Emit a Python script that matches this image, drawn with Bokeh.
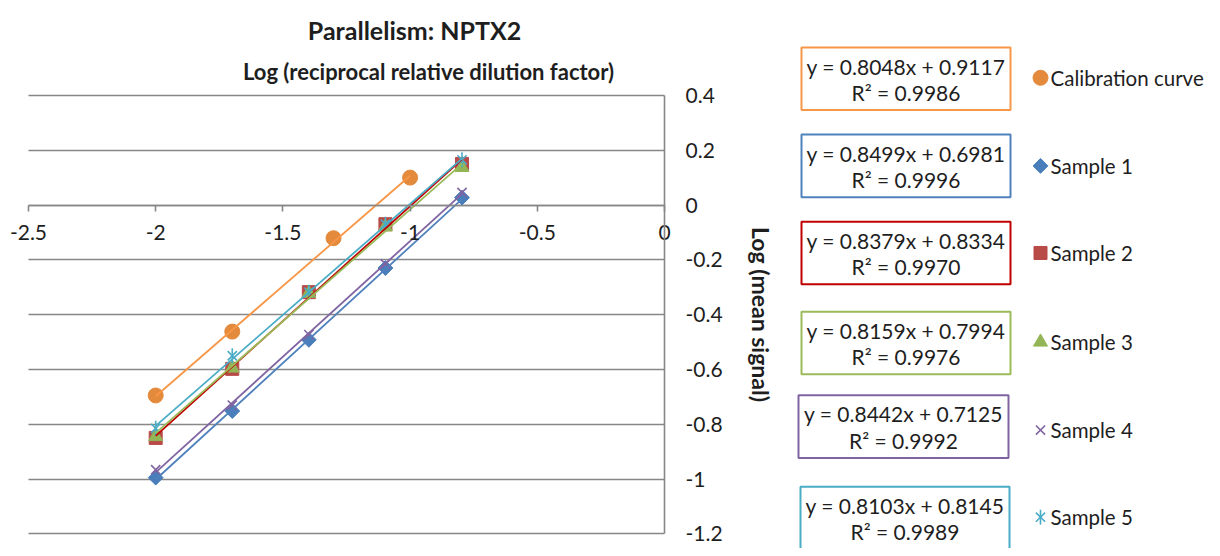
from bokeh.plotting import figure
from bokeh.models import Range1d, LinearAxis, FixedTicker, Grid
from bokeh.core.properties import value
from bokeh.embed import file_html
from bokeh.resources import INLINE
import numpy as np

# ---------------- data ----------------
series_names = ["Calibration curve", "Sample 1", "Sample 2", "Sample 3", "Sample 4", "Sample 5"]

x_cal = [-2.0, -1.699, -1.301, -1.0]
y_cal = [-0.695, -0.462, -0.121, 0.100]

x_smp = [-2.0, -1.699, -1.398, -1.097, -0.796]
y_s1 = [-0.995, -0.752, -0.492, -0.230, 0.027]
y_s2 = [-0.850, -0.598, -0.318, -0.070, 0.150]
y_s3 = [-0.845, -0.595, -0.322, -0.080, 0.137]
y_s4 = [-0.966, -0.730, -0.473, -0.215, 0.046]
y_s5 = [-0.815, -0.550, -0.318, -0.070, 0.165]

slopes = [0.8048, 0.8499, 0.8379, 0.8159, 0.8442, 0.8103]
intercepts = [0.9117, 0.6981, 0.8334, 0.7994, 0.7125, 0.8145]
r_squared = [0.9986, 0.9996, 0.9970, 0.9976, 0.9992, 0.9989]

x_ticks = [-2.5, -2.0, -1.5, -1.0, -0.5, 0.0]
x_tick_labels = ["-2.5", "-2", "-1.5", "-1", "-0.5", "0"]
y_ticks = [-1.2, -1.0, -0.8, -0.6, -0.4, -0.2, 0.0, 0.2, 0.4]
y_tick_labels = ["-1.2", "-1", "-0.8", "-0.6", "-0.4", "-0.2", "0", "0.2", "0.4"]

title_text = "Parallelism: NPTX2"
x_title = "Log (reciprocal relative dilution factor)"
y_title = "Log (mean signal)"

# ---------------- styles / layout ----------------
FONT = "Lato"
TXT = "#1e1e1e"
GRID = "#878787"
marker_colors = ["#E48A3C", "#4A7EBB", "#B84A47", "#93B556", "#8064A2", "#4BACC6"]
line_colors = ["#F79646", "#4F81BD", "#C00000", "#9BBB59", "#8064A2", "#4BACC6"]

W, H = 1204, 548
REF_H = 560  # layout coordinates below are in reference-picture pixels, squeezed into H
# plot area in reference pixels: x -2.5 -> 28, 0 -> 664 ; y 0.4 -> 97, -1.2 -> 545
PX_PER_X = (664 - 28) / 2.5
PX_PER_Y = (545 - 97) / 1.6
X0_PX, Y0_PX = 664, 209


def px2x(px):
    return (px - X0_PX) / PX_PER_X


def py2y(py):
    return (Y0_PX - py) / PX_PER_Y


x_range = Range1d(px2x(0), px2x(W))
y_range = Range1d(py2y(REF_H), py2y(0))

p = figure(width=W, height=H, x_range=x_range, y_range=y_range,
           output_backend="svg", toolbar_location=None,
           x_axis_location=None, y_axis_location=None, min_border=0)
p.xgrid.visible = False
p.ygrid.visible = False
p.outline_line_color = None
p.background_fill_color = "white"
p.border_fill_color = "white"

grid = Grid(dimension=1, ticker=FixedTicker(ticks=y_ticks), grid_line_color=GRID,
            grid_line_width=1.6, cross_bounds=(x_ticks[0], x_ticks[-1]))
p.add_layout(grid)

yaxis = LinearAxis(fixed_location=0, bounds=(y_ticks[0], y_ticks[-1]),
                   ticker=FixedTicker(ticks=y_ticks),
                   major_label_overrides={t: l for t, l in zip(y_ticks, y_tick_labels)},
                   axis_label=y_title)
yaxis.axis_line_color = GRID
yaxis.axis_line_width = 1.6
yaxis.major_tick_in = 0
yaxis.major_tick_out = 0
yaxis.minor_tick_line_color = None
yaxis.major_label_standoff = 21
yaxis.major_label_text_font = FONT
yaxis.major_label_text_font_size = "21px"
yaxis.major_label_text_color = TXT
yaxis.axis_label_text_font = FONT
yaxis.axis_label_text_font_size = "23px"
yaxis.axis_label_text_font_style = "bold"
yaxis.axis_label_text_color = TXT
yaxis.axis_label_standoff = 21
p.add_layout(yaxis, "right")

xaxis = LinearAxis(fixed_location=0, bounds=(x_ticks[0], x_ticks[-1]),
                   ticker=FixedTicker(ticks=x_ticks),
                   major_label_overrides={t: l for t, l in zip(x_ticks, x_tick_labels)})
xaxis.axis_line_color = GRID
xaxis.axis_line_width = 1.6
xaxis.major_tick_line_color = GRID
xaxis.major_tick_line_width = 1.6
xaxis.major_tick_in = 0
xaxis.major_tick_out = 6
xaxis.minor_tick_line_color = None
xaxis.major_label_standoff = 14
xaxis.major_label_text_font = FONT
xaxis.major_label_text_font_size = "21px"
xaxis.major_label_text_color = TXT
p.add_layout(xaxis, "below")

xs_list = [x_cal, x_smp, x_smp, x_smp, x_smp, x_smp]
ys_list = [y_cal, y_s1, y_s2, y_s3, y_s4, y_s5]


def draw_marker(i, xs, ys):
    c = marker_colors[i]
    if i == 0:
        p.scatter(xs, ys, marker="circle", size=15, fill_color=c, line_color=c)
    elif i == 1:
        p.scatter(xs, ys, marker="square", angle=np.pi / 4, size=10.5, fill_color=c, line_color=c)
    elif i == 2:
        p.scatter(xs, ys, marker="square", size=13, fill_color=c, line_color=c)
    elif i == 3:
        p.scatter(xs, ys, marker="triangle", size=14, fill_color=c, line_color=c)
    elif i == 4:
        p.scatter(xs, ys, marker="x", size=13, line_color=c, line_width=1.6)
    else:
        p.scatter(xs, ys, marker="x", size=13, line_color=c, line_width=1.6)
        p.scatter(xs, ys, marker="dash", angle=np.pi / 2, size=15, line_color=c, line_width=1.6)


# markers first, trendlines on top
for i in range(6):
    draw_marker(i, xs_list[i], ys_list[i])

for i in range(6):
    xs = xs_list[i]
    x0, x1 = min(xs), max(xs)
    p.line([x0, x1], [slopes[i] * x0 + intercepts[i], slopes[i] * x1 + intercepts[i]],
           line_color=line_colors[i], line_width=1.8)

# titles
p.text([px2x(414)], [py2y(30)], text=[title_text], text_align="center", text_baseline="middle",
       text_font=value(FONT), text_font_size="25px", text_font_style="bold", text_color=TXT)
p.text([px2x(428)], [py2y(73)], text=[x_title], text_align="center", text_baseline="middle",
       text_font=value(FONT), text_font_size="22px", text_font_style="bold", text_color=TXT)

# ---------------- legend with trendline equations ----------------
box_cy = [80, 169, 258, 350, 435.5, 529]
box_left = [801, 801, 801, 801, 798, 800]
box_right = [1010, 1010, 1010, 1010, 1008, 1009]
mark_cy = [79, 169, 258, 349, 439, 528]

for i in range(6):
    cy = box_cy[i]
    p.quad(left=[px2x(box_left[i])], right=[px2x(box_right[i])],
           top=[py2y(cy - 32)], bottom=[py2y(cy + 32)],
           fill_color="white", line_color=line_colors[i], line_width=2)
    cx = (box_left[i] + box_right[i]) / 2
    eq = f"y = {slopes[i]:.4f}x + {intercepts[i]:.4f}"
    r2 = f"R² = {r_squared[i]:.4f}"
    p.text([px2x(cx)], [py2y(cy - 13)], text=[eq], text_align="center", text_baseline="middle",
           text_font=value(FONT), text_font_size="21px", text_color=TXT)
    p.text([px2x(cx)], [py2y(cy + 14)], text=[r2], text_align="center", text_baseline="middle",
           text_font=value(FONT), text_font_size="21px", text_color=TXT)
    draw_marker(i, [px2x(1040)], [py2y(mark_cy[i])])
    p.text([px2x(1050)], [py2y(mark_cy[i])], text=[series_names[i]], text_align="left",
           text_baseline="middle", text_font=value(FONT), text_font_size="20.5px", text_color=TXT)

open("out.html", "w").write(file_html(p, INLINE))
